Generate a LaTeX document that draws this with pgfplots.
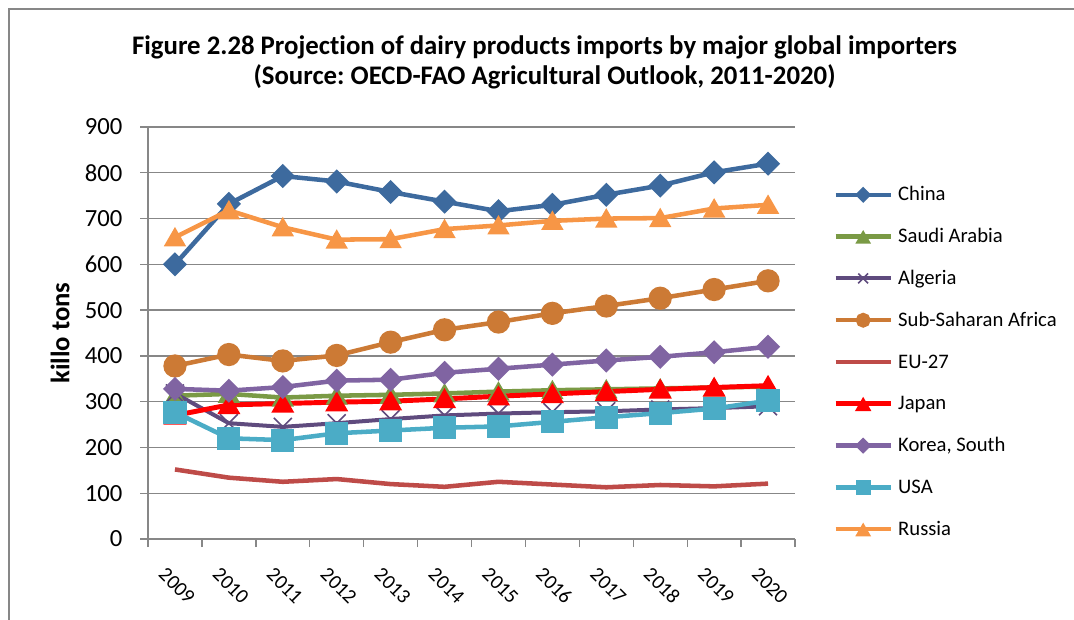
\documentclass[border=0pt]{standalone}
\usepackage{pgfplots}
\pgfplotsset{compat=1.18}
\usepackage{fontspec}
\setmainfont[Ligatures={NoCommon}]{Carlito}
\frenchspacing
\definecolor{cChina}{HTML}{3D6A9E}
\definecolor{cSaudi}{HTML}{7A9A45}
\definecolor{cAlg}{HTML}{5F4B7E}
\definecolor{cSSA}{HTML}{CC7A35}
\definecolor{cEU}{HTML}{BE4B48}
\definecolor{cJapan}{HTML}{FF0000}
\definecolor{cKorea}{HTML}{8064A2}
\definecolor{cUSA}{HTML}{4BACC6}
\definecolor{cRussia}{HTML}{F79646}
\definecolor{axgray}{HTML}{878787}
\begin{document}
\begin{tikzpicture}
\path[use as bounding box] (0,0) rectangle (805.5pt,-464.25pt);
\draw[color=axgray, line width=1.1pt] (6.75pt,-480pt) -- (6.75pt,-6.75pt) -- (830pt,-6.75pt);
\node[font=\bfseries\fontsize{20.1}{24}\selectfont] at (408.4pt,-35.25pt) {Figure 2.28 Projection of dairy products imports by major global importers};
\node[font=\bfseries\fontsize{20.1}{24}\selectfont] at (408.4pt,-57.75pt) {(Source: OECD-FAO Agricultural Outlook, 2011-2020)};
\begin{axis}[
  at={(111pt,-404.25pt)}, anchor=south west,
  scale only axis, width=485.25pt, height=309pt,
  xmin=-0.5, xmax=11.5, ymin=0, ymax=900,
  ytick={0,100,...,900},
  xtick={0,...,11},
  xticklabels={2009,2010,2011,2012,2013,2014,2015,2016,2017,2018,2019,2020},
  minor xtick={-0.5,0.5,...,11.5},
  major x tick style={draw=none},
  tick align=outside, major tick length=6pt, minor tick length=6pt,
  tick style={axgray, line width=1pt},
  axis x line*=bottom, axis y line*=left,
  axis line style={draw=axgray, line width=1pt, -},
  ymajorgrids, grid style={axgray, line width=1pt},
  /pgf/number format/assume math mode=true,
  yticklabel style={font=\fontsize{18.5}{22}\selectfont, anchor=east, xshift=-9.75pt},
  xticklabel style={font=\fontsize{15.3}{18}\selectfont, anchor=center, yshift=-29pt, xshift=1.5pt, rotate=-45},
  ylabel={\bfseries killo tons},
  ylabel style={font=\fontsize{20}{24}\selectfont, at={(axis description cs:-0.136,0.5)}, anchor=center},
  legend style={at={(1.0587,0.4296)}, anchor=west, draw=none, fill=none, inner sep=0pt,
    font=\fontsize{15.5}{18}\selectfont, row sep=18.35pt,
    nodes={inner sep=0pt, text height=11pt, text depth=2pt},
    /tikz/every odd column/.append style={column sep=3.75pt}},
  legend cell align=left,
  legend image code/.code={\draw[mark repeat=2,mark phase=2, every mark/.append style={scale=0.55}] plot coordinates {(0pt,0pt)(20.6pt,0pt)(41.25pt,0pt)};},
  every axis plot/.append style={line width=3.4pt},
]
\addplot[color=cChina, mark=square*, mark size=4.7pt, mark options={rotate=45, draw=none, fill=cChina}] coordinates {
(0,600)(1,732)(2,793)(3,781)(4,758)(5,737)(6,716)(7,730)(8,752)(9,772)(10,801)(11,820)};
\addlegendentry{China}
\addplot[color=cSaudi, mark=triangle*, mark size=6.3pt, mark options={yshift=-1.9pt, draw=none, fill=cSaudi}] coordinates {
(0,313)(1,317)(2,309)(3,313)(4,315)(5,318)(6,322)(7,325)(8,327)(9,329)(10,331)(11,333)};
\addlegendentry{Saudi Arabia}
\addplot[color=cAlg, line width=3pt, mark=x, mark size=9.5pt, mark options={line width=1.2pt, draw=cAlg}] coordinates {
(0,318)(1,253)(2,245)(3,253)(4,262)(5,270)(6,274)(7,277)(8,279)(9,283)(10,286)(11,290)};
\addlegendentry{Algeria}
\addplot[color=cSSA, mark=*, mark size=7pt, mark options={draw=none, fill=cSSA}] coordinates {
(0,378)(1,403)(2,389)(3,401)(4,430)(5,457)(6,474)(7,493)(8,509)(9,526)(10,545)(11,564)};
\addlegendentry{Sub-Saharan Africa}
\addplot[color=cEU, no marks] coordinates {
(0,152)(1,134)(2,125)(3,131)(4,120)(5,114)(6,125)(7,119)(8,113)(9,118)(10,115)(11,121)};
\addlegendentry{EU-27}
\addplot[color=cJapan, line width=3.7pt, mark=triangle*, mark size=6.3pt, mark options={yshift=-1.9pt, draw=none, fill=cJapan}] coordinates {
(0,270)(1,293)(2,296)(3,299)(4,301)(5,306)(6,312)(7,317)(8,322)(9,327)(10,331)(11,335)};
\addlegendentry{Japan}
\addplot[color=cKorea, mark=square*, mark size=4.7pt, mark options={rotate=45, draw=none, fill=cKorea}] coordinates {
(0,328)(1,324)(2,332)(3,346)(4,348)(5,363)(6,372)(7,381)(8,390)(9,398)(10,408)(11,420)};
\addlegendentry{Korea, South}
\addplot[color=cUSA, mark=square*, mark size=7pt, mark options={draw=none, fill=cUSA}] coordinates {
(0,277)(1,220)(2,216)(3,231)(4,237)(5,243)(6,246)(7,256)(8,266)(9,275)(10,285)(11,302)};
\addlegendentry{USA}
\addplot[color=cRussia, mark=triangle*, mark size=6.3pt, mark options={yshift=-1.9pt, draw=none, fill=cRussia}] coordinates {
(0,659)(1,718)(2,681)(3,654)(4,655)(5,677)(6,685)(7,695)(8,700)(9,701)(10,722)(11,730)};
\addlegendentry{Russia}
\end{axis}
\end{tikzpicture}
\end{document}
